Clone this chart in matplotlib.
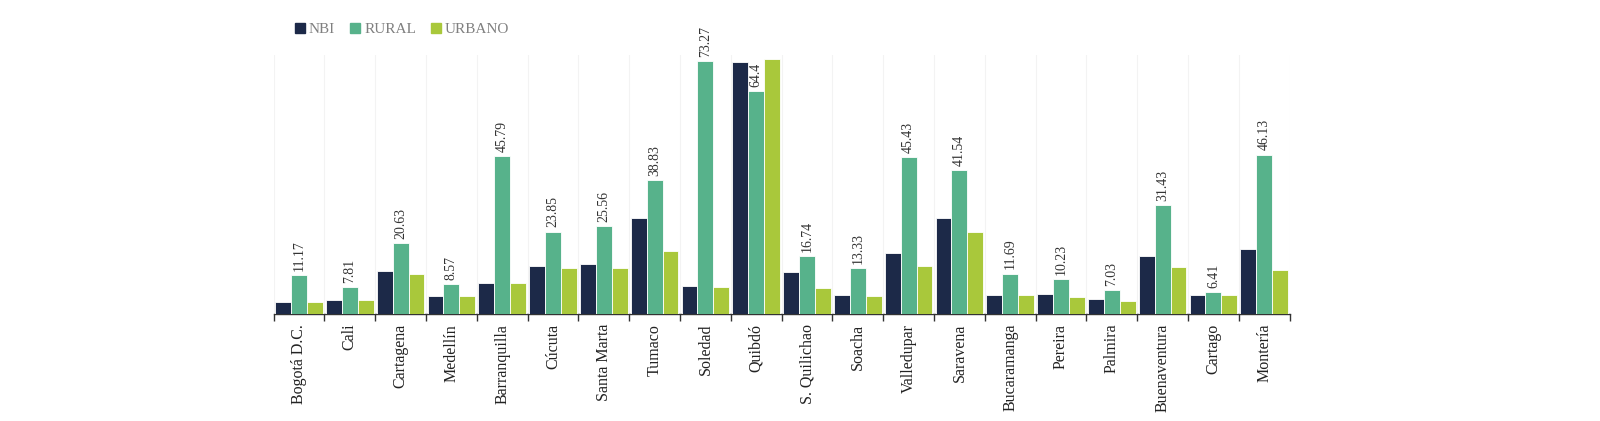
import numpy as np
import matplotlib
matplotlib.use('Agg')
import matplotlib.pyplot as plt
from matplotlib.lines import Line2D

ciudades = ['Bogotá D.C.', 'Cali', 'Cartagena', 'Medellín', 'Barranquilla', 'Cúcuta',
            'Santa Marta', 'Tumaco', 'Soledad', 'Quibdó', 'S. Quilichao', 'Soacha',
            'Valledupar', 'Saravena', 'Bucaramanga', 'Pereira', 'Palmira',
            'Buenaventura', 'Cartago', 'Montería']

nbi = [3.5, 4.1, 12.5, 5.2, 9.1, 13.9, 14.4, 27.7, 8.0, 72.8,
       12.2, 5.4, 17.8, 27.9, 5.5, 5.8, 4.5, 16.7, 5.4, 18.7]
rural = [11.17, 7.81, 20.63, 8.57, 45.79, 23.85, 25.56, 38.83, 73.27, 64.4,
         16.74, 13.33, 45.43, 41.54, 11.69, 10.23, 7.03, 31.43, 6.41, 46.13]
urbano = [3.4, 4.1, 11.6, 5.2, 9.1, 13.4, 13.3, 18.3, 7.9, 73.7,
          7.5, 5.2, 13.9, 23.6, 5.4, 4.9, 3.8, 13.6, 5.4, 12.8]

series = ['NBI', 'RURAL', 'URBANO']
colores = ['#1c2948', '#57b28b', '#a9c83b']

plt.rcParams['font.family'] = ['Liberation Serif', 'DejaVu Serif']

fig = plt.figure(figsize=(16, 4.21), dpi=100)
ax = fig.add_axes([0.171, 0.254, 0.635, 0.616])

x = np.arange(len(ciudades))
w = 0.313
for k, (vals, col) in enumerate(zip([nbi, rural, urbano], colores)):
    ax.bar(x + (k - 1) * w, vals, width=w, color=col, edgecolor='white', linewidth=0.6, zorder=3)

for xi, v in zip(x, rural):
    ax.text(xi, v + 1.2, f'{v:g}', rotation=90, ha='center', va='bottom',
            fontsize=10, color='#333333', zorder=4)

ax.set_xlim(-0.5, len(ciudades) - 0.5)
ax.set_ylim(0, 75)

# boundary ticks and faint grid
bounds = np.arange(len(ciudades) + 1) - 0.5
ax.set_xticks(bounds)
ax.set_xticklabels([])
ax.tick_params(axis='x', which='major', length=5, width=1, color='#333333')
ax.set_xticks(x, minor=True)
ax.set_xticklabels(ciudades, minor=True, rotation=90, fontsize=11.5, color='#222222')
ax.tick_params(axis='x', which='minor', length=0, pad=7)
ax.grid(axis='x', which='major', color='#f3f3f3', linewidth=0.8, zorder=0)

ax.set_yticks([])
for s in ['left', 'right', 'top']:
    ax.spines[s].set_visible(False)
ax.spines['bottom'].set_color('#333333')
ax.spines['bottom'].set_linewidth(1)

handles = [Line2D([], [], marker='s', linestyle='none', markersize=7, color=c) for c in colores]
fig.legend(handles, series, loc='center left', bbox_to_anchor=(0.174, 0.931), ncol=3,
           frameon=False, fontsize=11, labelcolor='#808080', handletextpad=0.1,
           columnspacing=0.8, handlelength=1.0)

fig.savefig('out.png', dpi=100)
